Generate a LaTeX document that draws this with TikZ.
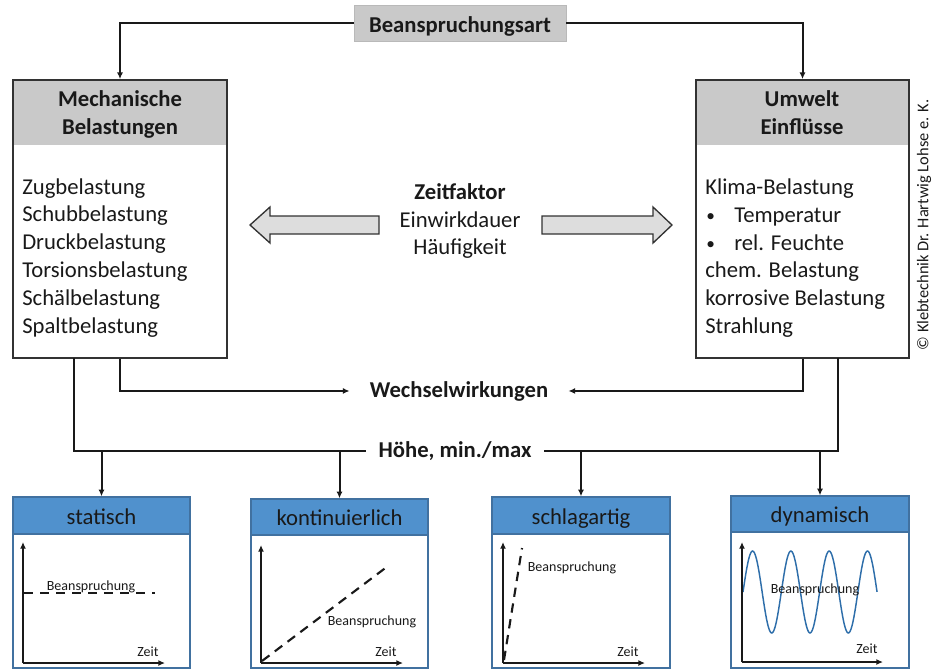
\documentclass[tikz,border=0pt]{standalone}
\usepackage{fontspec}
\setmainfont{Carlito}
\usetikzlibrary{arrows.meta,fit}
\definecolor{hgray}{RGB}{201,201,201}
\definecolor{bdr}{RGB}{50,50,50}
\definecolor{agray}{RGB}{221,221,221}
\definecolor{hblue}{RGB}{80,145,205}
\definecolor{bblue}{RGB}{65,113,160}
\definecolor{sblue}{RGB}{46,110,170}
\definecolor{ink}{RGB}{25,25,25}
\begin{document}
\begin{tikzpicture}[x=0.75pt,y=-0.75pt,
  every node/.style={text=ink},
  conn/.style={line width=1.5pt, draw=ink},
  arr/.style={conn, -{Latex[length=5pt,width=4.5pt]}},
  axarr/.style={line width=1.5pt, draw=ink, -{Latex[length=5pt,width=4.5pt]}},
  dashln/.style={line width=1.6pt, draw=ink, dash pattern=on 7pt off 5pt},
  bigbox/.style={draw=bdr, line width=1.3pt, inner sep=0pt, fit={#1}},
  grayhead/.style={fill=hgray, inner sep=0pt, fit={#1}},
  chartbox/.style={draw=bblue, line width=1pt, inner sep=0pt, fit={#1}},
  bluehead/.style={fill=hblue, draw=bblue, line width=0.8pt, inner sep=0pt, fit={#1}},
  txt/.style={font=\fontsize{17}{20.8}\selectfont, inner sep=0pt},
  btxt/.style={font=\fontsize{17}{20.8}\selectfont\bfseries, inner sep=0pt},
  bul/.style={font=\fontsize{13}{15}\selectfont, inner sep=0pt},
  small/.style={font=\fontsize{10.5}{12}\selectfont, inner sep=0pt, anchor=base}
]
\useasboundingbox (0,0) rectangle (938,669);

% top box
\node[fill=hgray, draw=gray!55, line width=0.6pt, inner sep=0pt, fit={(354,5)(566,41)}] (beans) {};
\node[btxt, anchor=base] (beansT) at (460,32) {Beanspruchungsart};

% Mechanische box
\node[grayhead={(13,80)(227,145)}] (mechH) {};
\node[bigbox={(13,80)(227,358)}] (mech) {};
\node[btxt, anchor=base] (mechT1) at (120,106) {Mechanische};
\node[btxt, anchor=base] (mechT2) at (120,134) {Belastungen};
\foreach \t [count=\i] in {Zugbelastung,Schubbelastung,Druckbelastung,Torsionsbelastung,Schälbelastung,Spaltbelastung}
  \node[txt, anchor=base west] (ml\i) at (22,{194+27.8*(\i-1)}) {\t};

% Umwelt box
\node[grayhead={(696,80)(909,145)}] (umwH) {};
\node[bigbox={(696,80)(909,358)}] (umw) {};
\node[btxt, anchor=base] (umwT1) at (802,106) {Umwelt};
\node[btxt, anchor=base] (umwT2) at (802,134) {Einflüsse};
\node[txt, anchor=base west] (ul1) at (705,194) {Klima-Belastung};
\node[bul, anchor=base west] (ub2) at (706,221) {•};
\node[txt, anchor=base west] (ul2) at (734,222) {Temperatur};
\node[bul, anchor=base west] (ub3) at (706,249) {•};
\node[txt, anchor=base west] (ul3) at (734,250) {rel. Feuchte};
\node[txt, anchor=base west] (ul4) at (705,277) {chem. Belastung};
\node[txt, anchor=base west] (ul5) at (705,305) {korrosive Belastung};
\node[txt, anchor=base west] (ul6) at (705,333) {Strahlung};

% connectors from top
\draw[arr] (beans.west) -| (mech.north);
\draw[arr] (beans.east) -| (umw.north);

% middle
\node[btxt, anchor=base] (zf) at (460,199) {Zeitfaktor};
\node[txt, anchor=base] (ew) at (460,227) {Einwirkdauer};
\node[txt, anchor=base] (hf) at (460,254) {Häufigkeit};
\draw[fill=agray, draw=bdr, line width=1pt, line join=miter]
  (250,225) -- (270,207) -- (270,216) -- (379,216) -- (379,234) -- (270,234) -- (270,243) -- cycle;
\draw[fill=agray, draw=bdr, line width=1pt, line join=miter]
  (672,225) -- (653,207) -- (653,216) -- (542,216) -- (542,234) -- (653,234) -- (653,243) -- cycle;

% Wechselwirkungen
\node[btxt, anchor=base, inner xsep=15pt] (wech) at (459,397) {Wechselwirkungen};
\draw[arr] (mech.south) |- (wech.west);
\draw[arr] (umw.south) |- (wech.east);

% Hoehe
\node[btxt, anchor=base, inner xsep=9pt] (hoehe) at (455,457) {Höhe, min./max};
\coordinate (hl) at (74,358);
\coordinate (hr) at (838,358);
\draw[conn] (hl) |- (hoehe.west);
\draw[conn] (hr) |- (hoehe.east);

% bottom boxes
\node[bluehead={(13,497)(190,534)}] (h1) {};
\node[chartbox={(13,497)(190,668)}] (b1) {};
\node[txt, anchor=base] (h1t) at (101.5,524) {statisch};
\node[bluehead={(251,499)(428,535)}] (h2) {};
\node[chartbox={(251,499)(428,668)}] (b2) {};
\node[txt, anchor=base] (h2t) at (339.5,525) {kontinuierlich};
\node[bluehead={(492,497)(670,534)}] (h3) {};
\node[chartbox={(492,497)(670,668)}] (b3) {};
\node[txt, anchor=base] (h3t) at (581,524) {schlagartig};
\node[bluehead={(731,496)(909,532)}] (h4) {};
\node[chartbox={(731,496)(909,668)}] (b4) {};
\node[txt, anchor=base] (h4t) at (820,522) {dynamisch};

\draw[arr] (b1.north |- hoehe.west) -- (b1.north);
\draw[arr] (b2.north |- hoehe.west) -- (b2.north);
\draw[arr] (b3.north |- hoehe.west) -- (b3.north);
\draw[arr] (b4.north |- hoehe.west) -- (b4.north);

% chart 1: statisch
\draw[dashln] (24,593) -- (155,593);
\draw[axarr] (23,663) -- (23,542);
\draw[axarr] (23,663) -- (165,663);
\node[small] (c1b) at (91,590) {Beanspruchung};
\node[small] (c1z) at (148,656) {Zeit};

% chart 2: kontinuierlich
\draw[dashln] (262,661) -- (388,566);
\draw[axarr] (261,663) -- (261,545);
\draw[axarr] (261,663) -- (403,663);
\node[small] (c2b) at (372,625) {Beanspruchung};
\node[small] (c2z) at (386,656) {Zeit};

% chart 3: schlagartig
\draw[dashln] (504,660) -- (522,548);
\draw[axarr] (503,663) -- (503,542);
\draw[axarr] (503,663) -- (645,663);
\node[small] (c3b) at (572,571) {Beanspruchung};
\node[small] (c3z) at (628,656) {Zeit};

% chart 4: dynamisch
\draw[sblue, line width=1.1pt] plot[domain=0:3.5, samples=140, smooth] ({743+38.3*\x},{592-41*sin(360*\x)});
\draw[axarr] (742,662) -- (742,542);
\draw[axarr] (742,662) -- (883,662);
\node[small] (c4b) at (815,593) {Beanspruchung};
\node[small] (c4z) at (867,653) {Zeit};

% copyright
\node[rotate=90, font=\fontsize{12.3}{14}\selectfont, inner sep=0pt] (copy) at (924,225) {© Klebtechnik Dr. Hartwig Lohse e. K.};
\end{tikzpicture}
\end{document}
